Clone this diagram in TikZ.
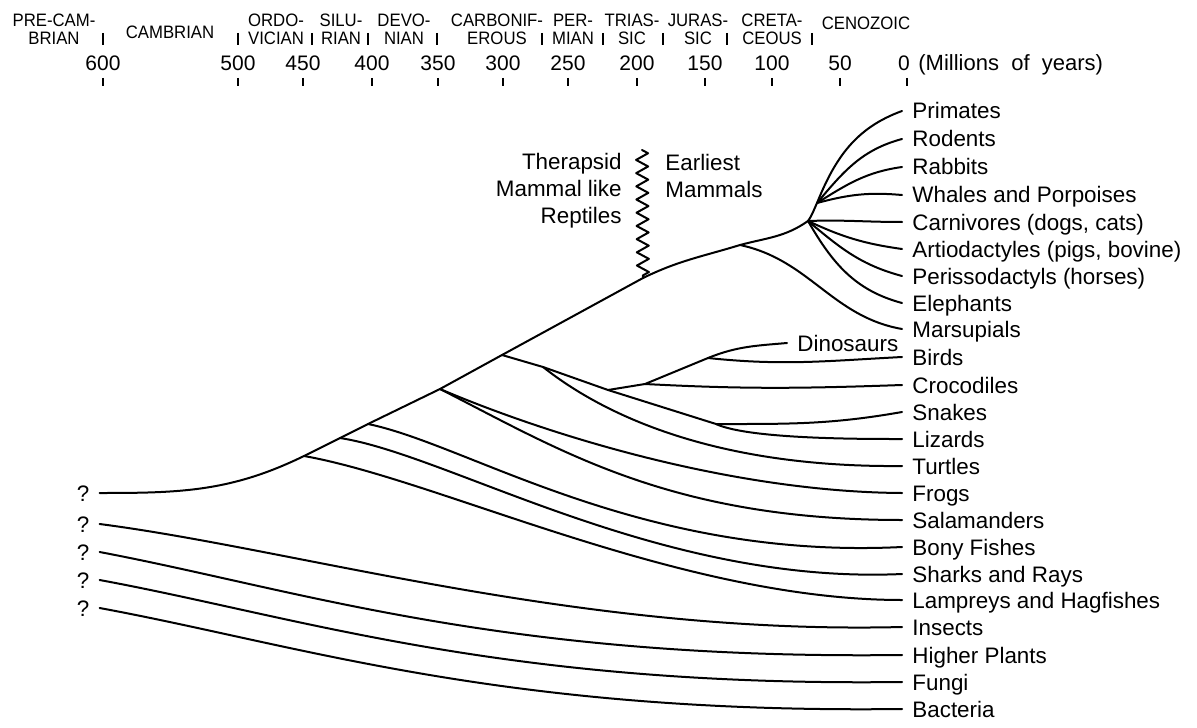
\documentclass[tikz,border=0pt]{standalone}
\usepackage{fontspec}
\setmainfont{Liberation Sans}
\newfontfamily\periodfont[FakeStretch=0.93]{Liberation Sans}
\usetikzlibrary{decorations.pathmorphing}

\tikzset{
  branch/.style={line width=1pt, line cap=round, line join=round},
  leaf/.style={anchor=west, inner xsep=5pt, inner ysep=0pt, text height=8pt, text depth=0pt, font=\fontsize{11.2}{13.5}\selectfont},
  qmark/.style={leaf, anchor=center},
  note/.style={inner sep=0pt, font=\fontsize{11.2}{13.5}\selectfont},
  period/.style={inner sep=0pt, align=center, font=\periodfont\fontsize{9}{9}\selectfont},
  year/.style={inner sep=0pt, text height=7.5pt, text depth=0pt, font=\fontsize{10.5}{12}\selectfont},
  tick/.style={line width=1pt},
}

\begin{document}
\begin{tikzpicture}[x=0.5pt, y=-0.5pt]
        \useasboundingbox (0,0) rectangle (1197,727);

        % geological periods
        \node[period] (precam) at (54,29) {PRE-CAM-\\BRIAN};
        \node[period] (cambrian) at (170,32) {CAMBRIAN};
        \node[period] (ordo) at (276,29) {ORDO-\\VICIAN};
        \node[period] (silu) at (341,29) {SILU-\\RIAN};
        \node[period] (devo) at (404,29) {DEVO-\\NIAN};
        \node[period] (carb) at (497,29) {CARBONIF-\\EROUS};
        \node[period] (perm) at (573,29) {PER-\\MIAN};
        \node[period] (trias) at (632,29) {TRIAS-\\SIC};
        \node[period] (juras) at (698,29) {JURAS-\\SIC};
        \node[period] (creta) at (772,29) {CRETA-\\CEOUS};
        \node[period] (ceno) at (866,23) {CENOZOIC};
        \draw[tick, line width=1.2pt] (103,33) -- (103,45) (238,33) -- (238,45) (312,33) -- (312,45)
            (368,33) -- (368,45) (437,33) -- (437,45) (542,33) -- (542,45) (603,33) -- (603,45)
            (663,33) -- (663,45) (727,33) -- (727,45) (812,33) -- (812,45);

        % time scale
        \node[year] (m600) at (103,63) {600};
        \node[year] (m500) at (238,63) {500};
        \node[year] (m450) at (303,63) {450};
        \node[year] (m400) at (372,63) {400};
        \node[year] (m350) at (438,63) {350};
        \node[year] (m300) at (503,63) {300};
        \node[year] (m250) at (568,63) {250};
        \node[year] (m200) at (637,63) {200};
        \node[year] (m150) at (705,63) {150};
        \node[year] (m100) at (772,63) {100};
        \node[year] (m50) at (840,63) {50};
        \node[year] (m0) at (904,63) {0};
        \node[year, anchor=west, font=\fontsize{11}{13}\selectfont] (myears) at (918,63) {(Millions~ of~ years)};
        \draw[tick] (103,78) -- (103,86) (238,78) -- (238,86) (303,78) -- (303,86) (372,78) -- (372,86)
            (438,78) -- (438,86) (503,78) -- (503,86) (568,78) -- (568,86) (637,78) -- (637,86)
            (705,78) -- (705,86) (772,78) -- (772,86) (840,78) -- (840,86) (907,78) -- (907,86);

        % living groups
        \node[leaf] (primates) at (902,111) {Primates};
        \node[leaf] (rodents) at (902,139) {Rodents};
        \node[leaf] (rabbits) at (902,167) {Rabbits};
        \node[leaf] (whales) at (902,195) {Whales and Porpoises};
        \node[leaf] (carnivores) at (902,222) {Carnivores (dogs, cats)};
        \node[leaf] (artio) at (902,249) {Artiodactyles (pigs, bovine)};
        \node[leaf] (perisso) at (902,276) {Perissodactyls (horses)};
        \node[leaf] (elephants) at (902,303) {Elephants};
        \node[leaf] (marsupials) at (902,329) {Marsupials};
        \node[leaf] (birds) at (902,357) {Birds};
        \node[leaf] (crocs) at (902,385) {Crocodiles};
        \node[leaf] (snakes) at (902,412) {Snakes};
        \node[leaf] (lizards) at (902,439) {Lizards};
        \node[leaf] (turtles) at (902,466) {Turtles};
        \node[leaf] (frogs) at (902,493) {Frogs};
        \node[leaf] (salamanders) at (902,520) {Salamanders};
        \node[leaf] (bony) at (902,547) {Bony Fishes};
        \node[leaf] (sharks) at (902,574) {Sharks and Rays};
        \node[leaf] (lampreys) at (902,600) {Lampreys and Hagfishes};
        \node[leaf] (insects) at (902,627) {Insects};
        \node[leaf] (plants) at (902,655) {Higher Plants};
        \node[leaf] (fungi) at (902,682) {Fungi};
        \node[leaf] (bacteria) at (902,709) {Bacteria};
        \node[leaf] (dinos) at (787,343) {Dinosaurs};

        % unknown origins
        \node[qmark] (q1) at (83,493) {?};
        \node[qmark] (q2) at (83,524) {?};
        \node[qmark] (q3) at (83,552) {?};
        \node[qmark] (q4) at (83,580) {?};
        \node[qmark] (q5) at (83,608) {?};

        \node[note, align=right, anchor=east] (therapsid) at (622,191) {Therapsid\\Mammal like\\Reptiles};
        \node[note, align=left, anchor=west] (earliest) at (665,176) {Earliest\\Mammals};

        % branch points
        \coordinate (nL) at (304,456);
        \coordinate (nS) at (340,438);
        \coordinate (nB) at (368,424);
        \coordinate (nA) at (440,389);
        \coordinate (nR) at (502,355);
        \coordinate (nRj) at (543,367);
        \coordinate (nD) at (608,390);
        \coordinate (nC) at (645,384);
        \coordinate (nBD) at (708,358);
        \coordinate (nSL) at (716,424);
        \coordinate (nW) at (643,278);
        \coordinate (wtop) at (642,150);
        \coordinate (nM) at (740,245);
        \coordinate (nP) at (808,221);
        \coordinate (nU) at (817,203);

        % vertebrate stem
        \draw[branch] (q1.east) to[out=0,in=206] (nL) -- (nS) -- (nB) -- (nA) -- (nR) -- (nW)
            to[out=26,in=197] (nM) to[out=15,in=215] (nP) to[out=55,in=245] (nU);
        \draw[branch, decorate, decoration={zigzag, segment length=6.6pt, amplitude=3pt}] (wtop) -- (nW);

        % mammals
        \draw[branch] (nM) to[out=-12,in=170] (marsupials.west);
        \draw[branch] (nU) to[out=68,in=200] (primates.west);
        \draw[branch] (nU) to[out=50,in=195] (rodents.west);
        \draw[branch] (nU) to[out=32,in=188] (rabbits.west);
        \draw[branch] (nU) to[out=15,in=175] (whales.west);
        \draw[branch] (nP) to[out=2,in=180] (carnivores.west);
        \draw[branch] (nP) to[out=-25,in=172] (artio.west);
        \draw[branch] (nP) to[out=-40,in=165] (perisso.west);
        \draw[branch] (nP) to[out=-60,in=165] (elephants.west);

        % reptiles and birds
        \draw[branch] (nR) -- (nRj) -- (nD) -- (nSL);
        \draw[branch] (nD) -- (nC) -- (nBD) to[out=22,in=185] (dinos.west);
        \draw[branch] (nBD) to[out=-6,in=183] (birds.west);
        \draw[branch] (nC) to[out=-3,in=182] (crocs.west);
        \draw[branch] (nSL) to[out=0,in=190] (snakes.west);
        \draw[branch] (nSL) to[out=-25,in=180,looseness=0.5] (lizards.west);
        \draw[branch] (nRj) .. controls (585,400) and (690,468) .. (turtles.west);

        % amphibians and fishes
        \draw[branch] (nA) .. controls (560,440) and (740,492) .. (frogs.west);
        \draw[branch] (nA) .. controls (560,450) and (670,520) .. (salamanders.west);
        \draw[branch] (nB) .. controls (470,445) and (640,560) .. (bony.west);
        \draw[branch] (nS) .. controls (450,455) and (660,585) .. (sharks.west);
        \draw[branch] (nL) .. controls (440,480) and (680,600) .. (lampreys.west);

        % other kingdoms
        \draw[branch] (q2.east) .. controls (300,550) and (580,635) .. (insects.west);
        \draw[branch] (q3.east) .. controls (300,590) and (500,660) .. (plants.west);
        \draw[branch] (q4.east) .. controls (300,617) and (500,687) .. (fungi.west);
        \draw[branch] (q5.east) .. controls (300,645) and (500,714) .. (bacteria.west);
      \end{tikzpicture}
\end{document}
